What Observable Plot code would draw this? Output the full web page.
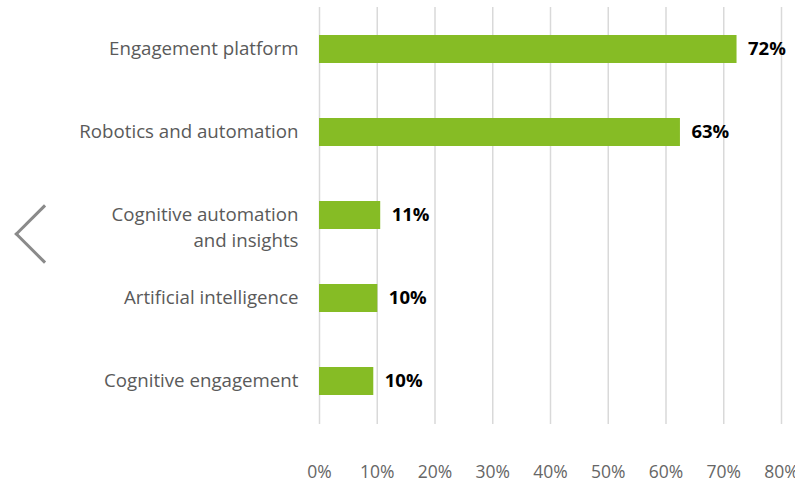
<!DOCTYPE html>
<html>
<head>
<meta charset="utf-8">
<script src="https://cdn.jsdelivr.net/npm/d3@7"></script>
<script src="https://cdn.jsdelivr.net/npm/@observablehq/plot@0.6"></script>
<style>
  html, body { margin: 0; padding: 0; background: #fff; }
  #wrap { position: relative; width: 795px; height: 484px; overflow: hidden; }
  #chevron {
    position: absolute; left: 23px; top: 213px; width: 42px; height: 42px;
    box-sizing: border-box; border-left: 3px solid #8a8a8a; border-bottom: 3px solid #8a8a8a;
    transform: rotate(45deg);
  }
  svg { display: block; }
</style>
</head>
<body>
<div id="wrap"><div id="chevron"></div></div>
<script>
const categories = ["Engagement platform", "Robotics and automation", "Cognitive automation and insights", "Artificial intelligence", "Cognitive engagement"];
const categoryLabels = ["Engagement platform", "Robotics and automation", "Cognitive automation\nand insights", "Artificial intelligence", "Cognitive engagement"];
const values = [72.3, 62.5, 10.6, 10.1, 9.4];
const valueLabels = ["72%", "63%", "11%", "10%", "10%"];
const xTicks = [0, 10, 20, 30, 40, 50, 60, 70, 80];

const data = categories.map((c, i) => ({category: c, label: categoryLabels[i], value: values[i], text: valueLabels[i]}));

const chart = Plot.plot({
  width: 795,
  height: 484,
  marginLeft: 319,
  marginRight: 14,
  marginTop: 7,
  marginBottom: 60,
  style: {fontFamily: "'Open Sans', sans-serif", background: "transparent"},
  x: {domain: [0, 80], axis: null},
  y: {domain: categories, paddingInner: 0.66, paddingOuter: 0.33, axis: null},
  marks: [
    Plot.ruleX(xTicks, {stroke: "#d9d9d9", strokeWidth: 1.5}),
    Plot.barX(data, {x: "value", y: "category", fill: "#86bc25"}),
    Plot.text(data, {x: "value", y: "category", text: "text", textAnchor: "start", dx: 11, fontWeight: "bold", fontSize: 18.5, fill: "#000"}),
    Plot.text(data, {x: 0, y: "category", text: "label", textAnchor: "end", dx: -21, lineAnchor: "top", dy: -13.5, lineHeight: 1.4, fontSize: 18.7, fill: "#5a5a5a"}),
    Plot.axisX({ticks: xTicks, tickFormat: d => d + "%", tickSize: 0, tickPadding: 41, fontSize: 17.5, fill: "#666", label: null})
  ]
});
document.getElementById("wrap").appendChild(chart);
</script>
</body>
</html>
